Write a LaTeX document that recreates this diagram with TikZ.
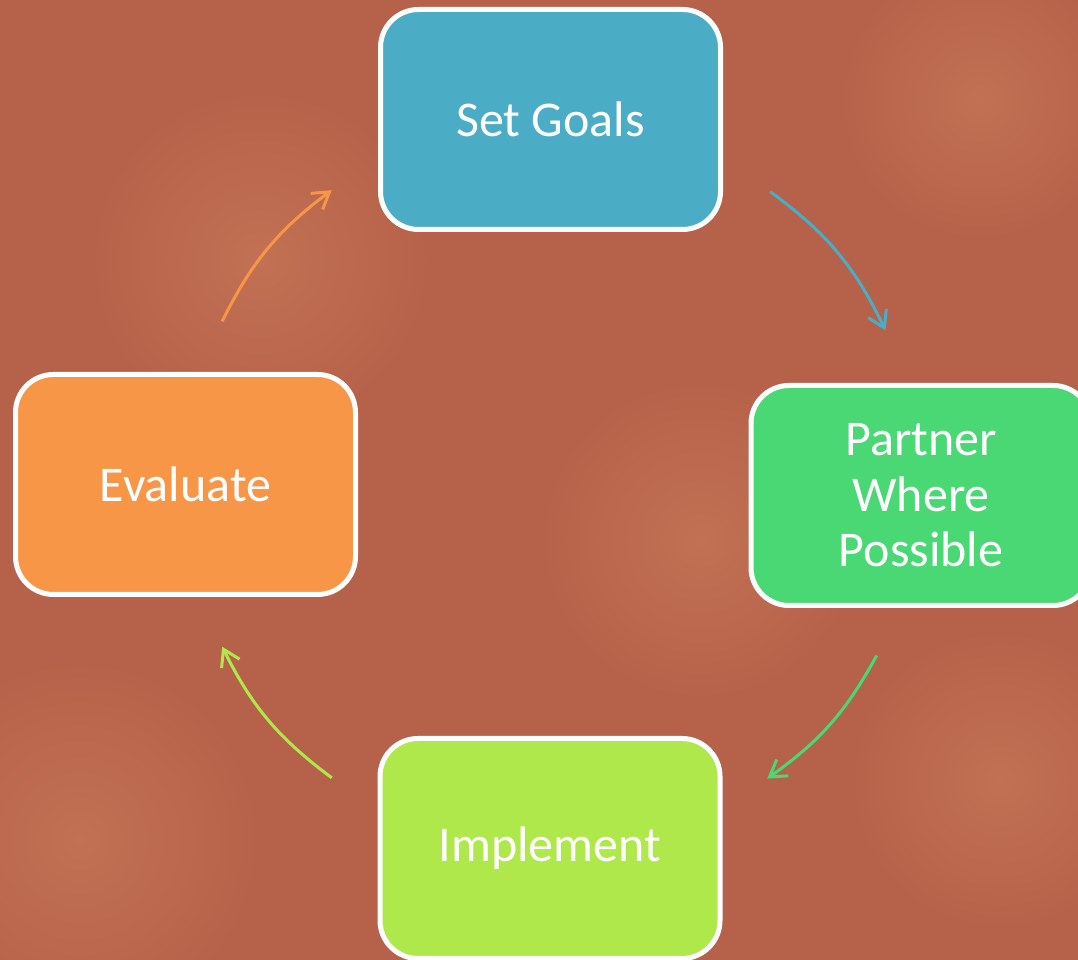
\documentclass[tikz,border=0pt]{standalone}
\usepackage{fontspec}
\setmainfont{Carlito}
\usetikzlibrary{arrows.meta,calc}

\definecolor{clay}{HTML}{B6624A}
\definecolor{clayhi}{HTML}{C27154}
\definecolor{goalblue}{HTML}{4BACC6}
\definecolor{partgreen}{HTML}{4AD874}
\definecolor{implime}{HTML}{AFE84A}
\definecolor{evalorange}{HTML}{F79646}

\begin{document}
\begin{tikzpicture}[x=1pt,y=1pt,
  stepbox/.style={draw=white,line width=5pt,rounded corners=38pt,
    minimum width=340pt,minimum height=220pt,text=white,align=center,
    font=\fontsize{50}{55.5}\selectfont},
  cycle/.style={line width=3pt,-{Straight Barb[length=16pt,width=20pt]}},
  patch/.style={inner color=clayhi,outer color=clay}]
\useasboundingbox (0,0) rectangle (1078,960);
\begin{scope}
\clip (0,0) rectangle (1078,960);
% background with soft lighter patches
\fill[clay] (0,0) rectangle (1078,960);
\shade[patch] (80,120) circle[radius=180];
\shade[patch] (700,420) circle[radius=160];
\shade[patch] (1000,180) circle[radius=150];
\shade[patch] (260,700) circle[radius=170];
\shade[patch] (980,860) circle[radius=140];

% the four steps
\node[stepbox,fill=goalblue] (goals) at (550.5,840.5) {Set Goals};
\node[stepbox,fill=partgreen] (partner) at (921,464.5) {Partner\\Where\\Possible};
\node[stepbox,fill=implime] (implement) at (550,111.5) {Implement};
\node[stepbox,fill=evalorange] (evaluate) at (185.5,475.5) {Evaluate};
\end{scope}

% arrow ends on a circle round the middle
\coordinate (hub) at (550,476);
\coordinate (g-out) at ($(hub)+(53:366)$);
\coordinate (p-in) at ($(hub)+(24.6:369)$);
\coordinate (p-out) at ($(hub)+(-27.7:369)$);
\coordinate (i-in) at ($(hub)+(-53.6:366)$);
\coordinate (i-out) at ($(hub)+(-126.6:366)$);
\coordinate (e-in) at ($(hub)+(-153.6:366)$);
\coordinate (e-out) at ($(hub)+(153.6:366)$);
\coordinate (g-in) at ($(hub)+(126.6:366)$);

\draw[cycle,goalblue] (g-out) to[bend left=14] (p-in);
\draw[cycle,partgreen] (p-out) to[bend left=13] (i-in);
\draw[cycle,implime] (i-out) to[bend left=13.5] (e-in);
\draw[cycle,evalorange] (e-out) to[bend left=13.5] (g-in);
\end{tikzpicture}
\end{document}
